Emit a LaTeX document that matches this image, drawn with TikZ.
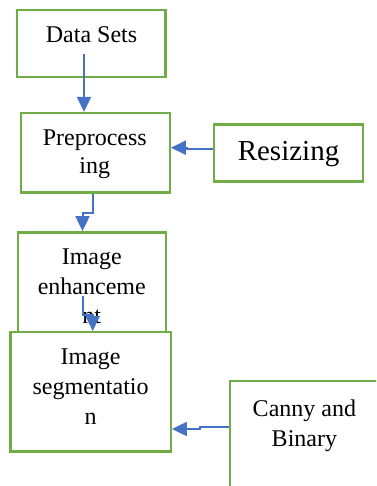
\documentclass[tikz,border=0pt]{standalone}
\usepackage{fontspec}
\setmainfont{Liberation Serif}
\usetikzlibrary{arrows.meta}
\definecolor{boxgreen}{HTML}{70AD47}
\definecolor{arrowblue}{HTML}{4472C4}
\begin{document}
\begin{tikzpicture}[x=1pt,y=-1pt,
  box/.style={draw=boxgreen, fill=white, line width=2.4pt, rectangle, inner sep=0pt},
  txt/.style={anchor=base, inner sep=0pt, font=\fontsize{24}{29}\selectfont},
  bigtxt/.style={anchor=base, inner sep=0pt, font=\fontsize{29}{34}\selectfont},
  conn/.style={draw=arrowblue, line width=2pt, -{Triangle[length=15pt,width=14pt]}}]
\useasboundingbox (0,0) rectangle (376,486);
\clip (0,0) rectangle (376,486);
\fill[white] (0,0) rectangle (376,486);

% boxes
\node[box, minimum width=148.5pt, minimum height=67pt] (ds) at (91.25,43.8) {};
\node[box, minimum width=149pt, minimum height=79.3pt] (pp) at (95.2,152.7) {};
\node[box, minimum width=149pt, minimum height=57pt] (rs) at (288.5,153.2) {};
\node[box, minimum width=147.9pt, minimum height=110pt] (ie) at (91.75,287.3) {};
\node[box, minimum width=160.4pt, minimum height=119.1pt] (is) at (90.5,391.8) {};
\node[box, minimum width=149.4pt, minimum height=130pt] (cb) at (304.5,446.2) {};

% texts
\node[txt] (ds1) at (91.5,42.7) {Data Sets};
\node[txt] (pp1) at (94.8,145.5) {Preprocess};
\node[txt] (pp2) at (94.8,174) {ing};
\node[bigtxt] (rs1) at (288.5,161) {Resizing};
\node[txt] (ie1) at (91.8,264.3) {Image};
\node[txt] (ie2) at (91.8,294) {enhanceme};
\node[txt] (ie3) at (91.8,323.3) {nt};
\node[txt] (is1) at (90.6,364) {Image};
\node[txt] (is2) at (90.6,394.3) {segmentatio};
\node[txt] (is3) at (90.6,424) {n};
\node[txt] (cb1) at (304.4,416) {Canny and};
\node[txt] (cb2) at (304.4,446.7) {Binary};

% free ends
\coordinate (a1s) at (84,54);
\coordinate (a4s) at (82.7,296);

% connectors
\draw[conn] (a1s) -- (a1s |- pp.north);
\draw[conn] (rs.west |- 0,149.3) -- (187,149.3) -- (187,147.7) -- (pp.east |- 0,147.7);
\draw[conn] (pp.south -| 92.7,0) -- (92.7,212.7) -- (82.5,212.7) -- (82.5,0 |- ie.north);
\draw[conn] (a4s) -- (82.7,315) -- (92.7,315) -- (92.7,0 |- is.north);
\draw[conn] (cb.west |- 0,426.7) -- (200,426.7) -- (200,429) -- (is.east |- 0,429);
\end{tikzpicture}
\end{document}
